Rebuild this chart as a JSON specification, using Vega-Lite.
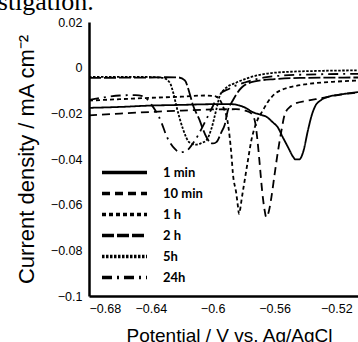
{
  "$schema": "https://vega.github.io/schema/vega-lite/v6.json",
  "width": 269,
  "height": 274,
  "autosize": {"type": "none"},
  "padding": {"left": 89, "top": 22, "right": 0, "bottom": 46},
  "background": "white",
  "title": {"text": "investigation.", "anchor": "start", "frame": "group", "font": "Liberation Serif", "fontSize": 26, "fontWeight": "normal", "color": "black", "dx": -136, "dy": 1, "offset": 2},
  "config": {
    "view": {"stroke": null},
    "axis": {"grid": false, "ticks": false, "domainColor": "black", "domainWidth": 2.5, "labelColor": "black", "labelFont": "Liberation Sans", "labelFontSize": 12.5, "titleColor": "black", "titleFontWeight": "normal"}
  },
  "datasets": {
    "curves": [
      {"series": "1 min", "potential": -0.68, "current": -0.0176},
      {"series": "1 min", "potential": -0.66, "current": -0.0172},
      {"series": "1 min", "potential": -0.64, "current": -0.0166},
      {"series": "1 min", "potential": -0.62, "current": -0.0163},
      {"series": "1 min", "potential": -0.60, "current": -0.0160},
      {"series": "1 min", "potential": -0.588, "current": -0.0160},
      {"series": "1 min", "potential": -0.583, "current": -0.0165},
      {"series": "1 min", "potential": -0.579, "current": -0.0175},
      {"series": "1 min", "potential": -0.574, "current": -0.0195},
      {"series": "1 min", "potential": -0.570, "current": -0.0204},
      {"series": "1 min", "potential": -0.565, "current": -0.0216},
      {"series": "1 min", "potential": -0.561, "current": -0.0240},
      {"series": "1 min", "potential": -0.5578, "current": -0.0262},
      {"series": "1 min", "potential": -0.555, "current": -0.0300},
      {"series": "1 min", "potential": -0.5513, "current": -0.0348},
      {"series": "1 min", "potential": -0.548, "current": -0.0390},
      {"series": "1 min", "potential": -0.5465, "current": -0.0402},
      {"series": "1 min", "potential": -0.544, "current": -0.0402},
      {"series": "1 min", "potential": -0.5415, "current": -0.0370},
      {"series": "1 min", "potential": -0.5384, "current": -0.0275},
      {"series": "1 min", "potential": -0.536, "current": -0.0210},
      {"series": "1 min", "potential": -0.534, "current": -0.0173},
      {"series": "1 min", "potential": -0.5297, "current": -0.0141},
      {"series": "1 min", "potential": -0.525, "current": -0.0127},
      {"series": "1 min", "potential": -0.519, "current": -0.0119},
      {"series": "1 min", "potential": -0.513, "current": -0.0113},
      {"series": "1 min", "potential": -0.506, "current": -0.0107},

      {"series": "10 min", "potential": -0.68, "current": -0.0209},
      {"series": "10 min", "potential": -0.66, "current": -0.0201},
      {"series": "10 min", "potential": -0.64, "current": -0.0194},
      {"series": "10 min", "potential": -0.62, "current": -0.0188},
      {"series": "10 min", "potential": -0.60, "current": -0.0183},
      {"series": "10 min", "potential": -0.585, "current": -0.0182},
      {"series": "10 min", "potential": -0.579, "current": -0.0188},
      {"series": "10 min", "potential": -0.575, "current": -0.0200},
      {"series": "10 min", "potential": -0.5725, "current": -0.0240},
      {"series": "10 min", "potential": -0.571, "current": -0.0320},
      {"series": "10 min", "potential": -0.5696, "current": -0.0420},
      {"series": "10 min", "potential": -0.568, "current": -0.0540},
      {"series": "10 min", "potential": -0.5665, "current": -0.0620},
      {"series": "10 min", "potential": -0.5653, "current": -0.0655},
      {"series": "10 min", "potential": -0.5637, "current": -0.0630},
      {"series": "10 min", "potential": -0.562, "current": -0.0567},
      {"series": "10 min", "potential": -0.5599, "current": -0.0465},
      {"series": "10 min", "potential": -0.5577, "current": -0.0363},
      {"series": "10 min", "potential": -0.5555, "current": -0.0275},
      {"series": "10 min", "potential": -0.5534, "current": -0.0205},
      {"series": "10 min", "potential": -0.550, "current": -0.0172},
      {"series": "10 min", "potential": -0.5469, "current": -0.0158},
      {"series": "10 min", "potential": -0.5383, "current": -0.0144},
      {"series": "10 min", "potential": -0.5297, "current": -0.0134},
      {"series": "10 min", "potential": -0.52, "current": -0.0121},
      {"series": "10 min", "potential": -0.513, "current": -0.0114},
      {"series": "10 min", "potential": -0.506, "current": -0.0109},

      {"series": "1 h", "potential": -0.68, "current": -0.0144},
      {"series": "1 h", "potential": -0.66, "current": -0.0138},
      {"series": "1 h", "potential": -0.64, "current": -0.0132},
      {"series": "1 h", "potential": -0.62, "current": -0.0127},
      {"series": "1 h", "potential": -0.605, "current": -0.0122},
      {"series": "1 h", "potential": -0.599, "current": -0.0124},
      {"series": "1 h", "potential": -0.5955, "current": -0.0140},
      {"series": "1 h", "potential": -0.593, "current": -0.0175},
      {"series": "1 h", "potential": -0.5905, "current": -0.0230},
      {"series": "1 h", "potential": -0.589, "current": -0.0304},
      {"series": "1 h", "potential": -0.5879, "current": -0.0380},
      {"series": "1 h", "potential": -0.5869, "current": -0.0465},
      {"series": "1 h", "potential": -0.5847, "current": -0.0552},
      {"series": "1 h", "potential": -0.5836, "current": -0.0611},
      {"series": "1 h", "potential": -0.583, "current": -0.0640},
      {"series": "1 h", "potential": -0.5822, "current": -0.0620},
      {"series": "1 h", "potential": -0.5814, "current": -0.0582},
      {"series": "1 h", "potential": -0.5793, "current": -0.0494},
      {"series": "1 h", "potential": -0.5772, "current": -0.0406},
      {"series": "1 h", "potential": -0.575, "current": -0.0319},
      {"series": "1 h", "potential": -0.5717, "current": -0.0240},
      {"series": "1 h", "potential": -0.5675, "current": -0.0187},
      {"series": "1 h", "potential": -0.5644, "current": -0.0151},
      {"series": "1 h", "potential": -0.5599, "current": -0.0115},
      {"series": "1 h", "potential": -0.555, "current": -0.0096},
      {"series": "1 h", "potential": -0.5491, "current": -0.0084},
      {"series": "1 h", "potential": -0.540, "current": -0.0073},
      {"series": "1 h", "potential": -0.534, "current": -0.0068},
      {"series": "1 h", "potential": -0.52, "current": -0.0061},
      {"series": "1 h", "potential": -0.506, "current": -0.0056},

      {"series": "2 h", "potential": -0.68, "current": -0.0045},
      {"series": "2 h", "potential": -0.66, "current": -0.0044},
      {"series": "2 h", "potential": -0.64, "current": -0.0043},
      {"series": "2 h", "potential": -0.63, "current": -0.0042},
      {"series": "2 h", "potential": -0.622, "current": -0.0043},
      {"series": "2 h", "potential": -0.618, "current": -0.0056},
      {"series": "2 h", "potential": -0.6149, "current": -0.0113},
      {"series": "2 h", "potential": -0.6129, "current": -0.0161},
      {"series": "2 h", "potential": -0.6084, "current": -0.0231},
      {"series": "2 h", "potential": -0.6065, "current": -0.0266},
      {"series": "2 h", "potential": -0.6039, "current": -0.0306},
      {"series": "2 h", "potential": -0.6019, "current": -0.0326},
      {"series": "2 h", "potential": -0.600, "current": -0.0332},
      {"series": "2 h", "potential": -0.5976, "current": -0.0326},
      {"series": "2 h", "potential": -0.5944, "current": -0.0283},
      {"series": "2 h", "potential": -0.5922, "current": -0.0250},
      {"series": "2 h", "potential": -0.5903, "current": -0.0190},
      {"series": "2 h", "potential": -0.587, "current": -0.0144},
      {"series": "2 h", "potential": -0.5814, "current": -0.0088},
      {"series": "2 h", "potential": -0.5728, "current": -0.0060},
      {"series": "2 h", "potential": -0.5599, "current": -0.0050},
      {"series": "2 h", "potential": -0.5437, "current": -0.0045},
      {"series": "2 h", "potential": -0.506, "current": -0.0043},

      {"series": "5h", "potential": -0.68, "current": -0.0040},
      {"series": "5h", "potential": -0.66, "current": -0.0040},
      {"series": "5h", "potential": -0.64, "current": -0.0041},
      {"series": "5h", "potential": -0.632, "current": -0.0045},
      {"series": "5h", "potential": -0.6278, "current": -0.0065},
      {"series": "5h", "potential": -0.6255, "current": -0.0110},
      {"series": "5h", "potential": -0.6235, "current": -0.0167},
      {"series": "5h", "potential": -0.6192, "current": -0.0269},
      {"series": "5h", "potential": -0.6149, "current": -0.0328},
      {"series": "5h", "potential": -0.6105, "current": -0.0337},
      {"series": "5h", "potential": -0.6073, "current": -0.0330},
      {"series": "5h", "potential": -0.6041, "current": -0.0318},
      {"series": "5h", "potential": -0.6009, "current": -0.0269},
      {"series": "5h", "potential": -0.5976, "current": -0.0182},
      {"series": "5h", "potential": -0.5954, "current": -0.0123},
      {"series": "5h", "potential": -0.5922, "current": -0.0094},
      {"series": "5h", "potential": -0.5846, "current": -0.0065},
      {"series": "5h", "potential": -0.576, "current": -0.0043},
      {"series": "5h", "potential": -0.5599, "current": -0.0022},
      {"series": "5h", "potential": -0.5308, "current": -0.0014},
      {"series": "5h", "potential": -0.506, "current": -0.0012},

      {"series": "24h", "potential": -0.68, "current": -0.0141},
      {"series": "24h", "potential": -0.67, "current": -0.0130},
      {"series": "24h", "potential": -0.66, "current": -0.0122},
      {"series": "24h", "potential": -0.65, "current": -0.0120},
      {"series": "24h", "potential": -0.645, "current": -0.0125},
      {"series": "24h", "potential": -0.6396, "current": -0.0162},
      {"series": "24h", "potential": -0.6332, "current": -0.0239},
      {"series": "24h", "potential": -0.630, "current": -0.0297},
      {"series": "24h", "potential": -0.6246, "current": -0.0355},
      {"series": "24h", "potential": -0.6213, "current": -0.0371},
      {"series": "24h", "potential": -0.617, "current": -0.0364},
      {"series": "24h", "potential": -0.6116, "current": -0.0320},
      {"series": "24h", "potential": -0.6073, "current": -0.0269},
      {"series": "24h", "potential": -0.6041, "current": -0.0226},
      {"series": "24h", "potential": -0.600, "current": -0.0170},
      {"series": "24h", "potential": -0.5967, "current": -0.0125},
      {"series": "24h", "potential": -0.589, "current": -0.0091},
      {"series": "24h", "potential": -0.5793, "current": -0.0065},
      {"series": "24h", "potential": -0.5664, "current": -0.0043},
      {"series": "24h", "potential": -0.5437, "current": -0.0031},
      {"series": "24h", "potential": -0.506, "current": -0.0027}
    ]
  },
  "layer": [
    {
      "data": {"name": "curves"},
      "mark": {"type": "line", "color": "black", "strokeWidth": 1.8, "interpolate": "monotone", "clip": true},
      "encoding": {
        "x": {
          "field": "potential", "type": "quantitative",
          "scale": {"domain": [-0.68, -0.506], "nice": false, "zero": false},
          "axis": {"values": [-0.68, -0.64, -0.6, -0.56, -0.52], "labelExpr": "format(datum.value, '~g')", "labelPadding": 6, "title": "Potential / V vs. Ag/AgCl", "titleFont": "Liberation Sans", "titleFontSize": 19, "titleX": 140, "titleY": 45, "titleBaseline": "alphabetic", "titleAnchor": "middle"}
        },
        "y": {
          "field": "current", "type": "quantitative",
          "scale": {"domain": [-0.1, 0.02], "nice": false, "zero": false},
          "axis": {"values": [0.02, 0, -0.02, -0.04, -0.06, -0.08, -0.1], "labelExpr": "format(datum.value, '~g')", "labelPadding": 7, "title": "Current density / mA cm⁻²", "titleFont": "Liberation Sans", "titleFontSize": 22, "titlePadding": 12}
        },
        "strokeDash": {
          "field": "series", "type": "nominal",
          "scale": {"domain": ["1 min", "10 min", "1 h", "2 h", "5h", "24h"], "range": [[1, 0], [8, 5], [4, 3], [12, 3], [2.5, 1.5], [10, 5, 2, 5]]},
          "legend": {"orient": "none", "legendX": 11, "legendY": 140, "title": null, "symbolType": "stroke", "symbolSize": 2025, "symbolStrokeWidth": 3.5, "symbolStrokeColor": "black", "labelFont": "Lato", "labelFontWeight": "bold", "labelFontSize": 13, "labelColor": "black", "labelOffset": 14, "clipHeight": 21, "rowPadding": 0, "padding": 0}
        }
      }
    },
    {
      "mark": {"type": "rule", "color": "black", "strokeWidth": 2.5},
      "encoding": {"y": {"datum": 0.02}}
    }
  ]
}
